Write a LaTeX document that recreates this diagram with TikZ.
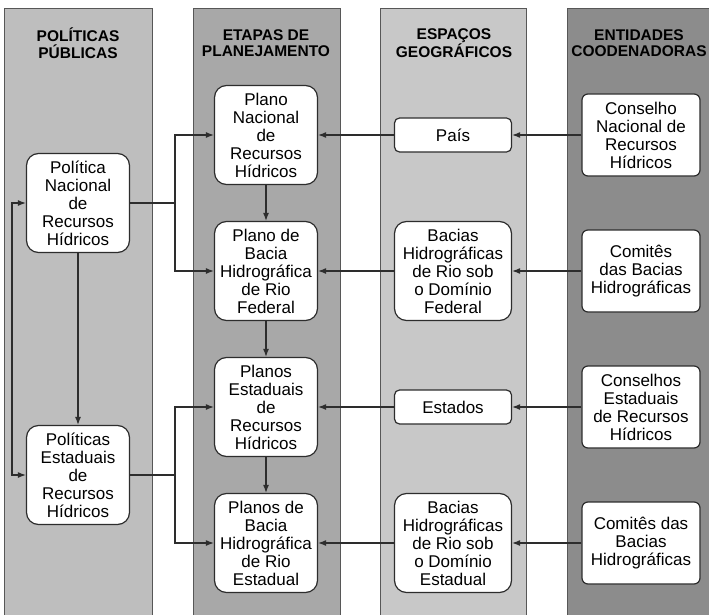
\documentclass[tikz,border=0pt]{standalone}
\usepackage{fontspec}
\setmainfont{Liberation Sans}
\usetikzlibrary{
    arrows.meta,
    positioning
}

\definecolor{politicas}{RGB}{190,190,190}
\definecolor{etapas}{RGB}{168,168,168}
\definecolor{espacos}{RGB}{200,200,200}
\definecolor{entidades}{RGB}{140,140,140}
\definecolor{linegray}{RGB}{45,45,45}

\begin{document}
\begin{tikzpicture}[
    x=1pt, y=-1pt,
    node distance=136pt,
    font=\fontsize{17}{18}\selectfont,
    column/.style={draw=linegray!80, line width=0.9pt},
    header/.style={align=center, font=\bfseries\fontsize{15.5}{16.5}\selectfont},
    plan/.style={rectangle, rounded corners=12pt, minimum width=103pt, minimum height=99pt,
                 inner sep=2pt, align=center, draw=linegray, line width=1.2pt, fill=white},
    basin/.style={plan, minimum width=117pt},
    region/.style={basin, rounded corners=5pt, minimum height=34pt},
    entity/.style={plan, rounded corners=6pt, minimum width=118pt, minimum height=82pt},
    arrow/.style={line width=1.2pt, draw=linegray, ->, >={Latex[length=8pt,width=6pt]}}
]
    \useasboundingbox (0,0) rectangle (709,615);

    % Columns
    \draw[column, fill=politicas] (4,8) rectangle (152,625);
    \draw[column, fill=etapas] (193,8) rectangle (340,625);
    \draw[column, fill=espacos] (380,8) rectangle (526,625);
    \draw[column, fill=entidades] (567,8) rectangle (725,625);

    % Headers
    \node (hpol) [header] at (78,43) {POLÍTICAS\\PÚBLICAS};
    \node (heta) [header] at (266,43) {ETAPAS DE\\PLANEJAMENTO};
    \node (hesp) [header] at (454,43) {ESPAÇOS\\GEOGRÁFICOS};
    \node (hent) [header] at (639,43) {ENTIDADES\\COODENADORAS};

    % Nodes
    \node (pnrh) [plan] at (78,203) {Política\\Nacional\\de\\Recursos\\Hídricos};
    \node (pers) [plan, below of=pnrh, yshift=-136pt] {Políticas\\Estaduais\\de\\Recursos\\Hídricos};

    \node (plnac) [plan] at (266,135) {Plano\\Nacional\\de\\Recursos\\Hídricos};
    \node (pbfed) [plan, below of=plnac] {Plano de\\Bacia\\Hidrográfica\\de Rio\\Federal};
    \node (plest) [plan, below of=pbfed] {Planos\\Estaduais\\de\\Recursos\\Hídricos};
    \node (pbest) [plan, below of=plest] {Planos de\\Bacia\\Hidrográfica\\de Rio\\Estadual};

    \node (pais) [region, right of=plnac, xshift=51pt] {País};
    \node (bfed) [basin, below of=pais] {Bacias\\Hidrográficas\\de Rio sob\\o Domínio\\Federal};
    \node (estados) [region, below of=bfed] {Estados};
    \node (best) [basin, below of=estados] {Bacias\\Hidrográficas\\de Rio sob\\o Domínio\\Estadual};

    \node (cnrh) [entity, right of=pais, xshift=52pt] {Conselho\\Nacional de\\Recursos\\Hídricos};
    \node (cbfed) [entity, below of=cnrh] {Comitês\\das Bacias\\Hidrográficas};
    \node (cerh) [entity, below of=cbfed] {Conselhos\\Estaduais\\de Recursos\\Hídricos};
    \node (cbest) [entity, below of=cerh] {Comitês das\\Bacias\\Hidrográficas};

    \coordinate (jnac) at (175,203);
    \coordinate (jest) at (175,475);

    % Arrows
    \draw [arrow] (cnrh) -- (pais);
    \draw [arrow] (cbfed) -- (bfed);
    \draw [arrow] (cerh) -- (estados);
    \draw [arrow] (cbest) -- (best);

    \draw [arrow] (pais) -- (plnac);
    \draw [arrow] (bfed) -- (pbfed);
    \draw [arrow] (estados) -- (plest);
    \draw [arrow] (best) -- (pbest);

    \draw [arrow] (plnac) -- (pbfed);
    \draw [arrow] (pbfed) -- (plest);
    \draw [arrow] (plest) -- (pbest);

    \draw [arrow] (pnrh) -- (jnac) |- (plnac);
    \draw [arrow] (jnac) |- (pbfed);
    \draw [arrow] (pers) -- (jest) |- (plest);
    \draw [arrow] (jest) |- (pbest);

    \draw [arrow] (pnrh) -- (pers);
    \draw [arrow, <->] (pnrh.west) -- ++(-14,0) |- (pers.west);

\end{tikzpicture}
\end{document}
